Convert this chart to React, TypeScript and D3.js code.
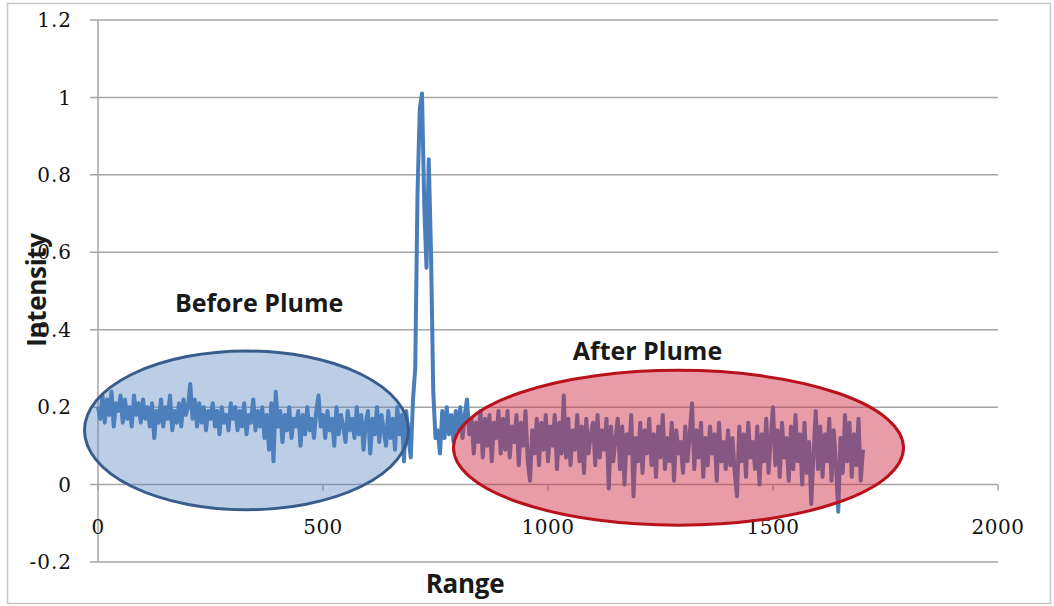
import React from "react";
import * as d3 from "d3";

// samples every 5 range units, starting at 0
const rangeStart = 0;
const rangeStep = 5;
const intensity = [
  0.20, 0.17, 0.23, 0.16, 0.22, 0.18, 0.24, 0.15, 0.21, 0.19, 0.23, 0.16, 0.22, 0.17, 0.20, 0.15, 0.23, 0.18, 0.21, 0.16,
  0.22, 0.17, 0.20, 0.15, 0.21, 0.12, 0.19, 0.16, 0.22, 0.15, 0.20, 0.17, 0.23, 0.14, 0.19, 0.16, 0.21, 0.15, 0.22, 0.18,
  0.20, 0.26, 0.17, 0.22, 0.15, 0.21, 0.16, 0.20, 0.14, 0.19, 0.17, 0.21, 0.15, 0.19, 0.13, 0.20, 0.16, 0.18, 0.14, 0.21,
  0.17, 0.20, 0.14, 0.19, 0.15, 0.21, 0.13, 0.18, 0.16, 0.22, 0.14, 0.19, 0.15, 0.20, 0.12, 0.18, 0.09, 0.21, 0.06, 0.24,
  0.15, 0.19, 0.11, 0.18, 0.14, 0.20, 0.12, 0.17, 0.15, 0.19, 0.10, 0.18, 0.13, 0.20, 0.14, 0.17, 0.12, 0.19, 0.23, 0.15,
  0.18, 0.12, 0.19, 0.14, 0.17, 0.10, 0.20, 0.13, 0.18, 0.15, 0.11, 0.19, 0.14, 0.17, 0.12, 0.20, 0.13, 0.18, 0.09, 0.16,
  0.19, 0.08, 0.17, 0.13, 0.20, 0.11, 0.18, 0.14, 0.10, 0.19, 0.12, 0.17, 0.09, 0.20, 0.13, 0.18, 0.06, 0.19, 0.12, 0.07,
  0.22, 0.30, 0.75, 0.97, 1.01, 0.72, 0.56, 0.84, 0.60, 0.24, 0.12, 0.14, 0.08, 0.19, 0.12, 0.20, 0.13, 0.18, 0.11, 0.19,
  0.14, 0.20, 0.12, 0.18, 0.22, 0.13, 0.17, 0.08, 0.16, 0.11, 0.19, 0.07, 0.17, 0.10, 0.18, 0.06, 0.16, 0.12, 0.19, 0.08,
  0.17, 0.09, 0.19, 0.07, 0.15, 0.11, 0.18, 0.05, 0.16, 0.10, 0.19, 0.06, 0.01, 0.14, 0.08, 0.17, 0.05, 0.16, 0.09, 0.18,
  0.06, 0.15, 0.10, 0.18, 0.04, 0.16, 0.08, 0.23, 0.07, 0.17, 0.05, 0.14, 0.09, 0.18, 0.06, 0.15, 0.03, 0.17, 0.08, 0.13,
  0.16, 0.05, 0.18, 0.07, 0.14, 0.09, 0.17, -0.01, 0.15, 0.06, 0.12, 0.17, 0.04, 0.15, 0.00, 0.13, 0.08, 0.18, -0.03, 0.12,
  0.06, 0.16, 0.03, 0.14, 0.08, 0.17, 0.05, 0.13, 0.02, 0.15, 0.07, 0.18, 0.04, 0.12, 0.06, 0.16, 0.01, 0.14, 0.08, 0.11,
  0.03, 0.15, 0.06, 0.13, 0.21, 0.04, 0.14, 0.07, 0.16, 0.02, 0.12, 0.05, 0.15, 0.08, 0.13, 0.01, 0.16, 0.06, 0.11, 0.04,
  0.14, 0.05, 0.12, 0.03, -0.03, 0.15, 0.06, 0.13, 0.02, 0.16, 0.07, 0.11, 0.04, 0.15, 0.00, 0.13, 0.06, 0.17, 0.03, 0.12,
  0.20, 0.05, 0.14, 0.02, 0.16, 0.07, 0.12, 0.01, 0.15, 0.04, 0.18, 0.06, 0.13, 0.00, 0.16, 0.03, 0.11, -0.05, 0.08, 0.19,
  0.04, 0.15, 0.02, 0.13, 0.06, 0.17, 0.01, 0.14, 0.05, -0.07, 0.12, 0.03, 0.18, 0.06, 0.16, 0.02, 0.13, 0.05, 0.17, 0.01, 0.09,
];

const xTicks = [0, 500, 1000, 1500, 2000];
const yTicks = [-0.2, 0, 0.2, 0.4, 0.6, 0.8, 1, 1.2];

// highlighted regions, in data units (centre, half sizes, label anchor)
const regions = [
  { label: "Before Plume", cx: 330, cy: 0.14, rx: 360, ry: 0.205, lx: 358, ly: 0.445, fill: "rgb(79,129,189)", op: 0.39, stroke: "#385d8a" },
  { label: "After Plume", cx: 1290, cy: 0.095, rx: 500, ry: 0.2, lx: 1221, ly: 0.323, fill: "rgb(205,45,70)", op: 0.47, stroke: "#b8121c" },
];

const W = 1054;
const H = 606;

export default function App() {
  const x = d3.scaleLinear().domain([0, 2000]).range([98, 998]);
  const y = d3.scaleLinear().domain([-0.2, 1.2]).range([562, 20]);

  const line = d3
    .line<number>()
    .x((_, i) => x(rangeStart + i * rangeStep))
    .y((d) => y(d));

  const labelFont = "'Open Sans', 'Noto Sans', sans-serif";
  const tickFont = "'DejaVu Serif', serif";

  return (
    <svg width={W} height={H} style={{ position: "absolute", left: 0, top: 0, background: "#fff" }}>
      <rect x={7.5} y={3.5} width={1043} height={600} fill="#fff" stroke="#c8c8c8" strokeWidth={1.5} />

      {/* gridlines */}
      {yTicks.map((t) => (
        <line key={t} x1={x(0) - 8} x2={x(2000)} y1={y(t)} y2={y(t)} stroke="#a6a6a6" strokeWidth={1.5} />
      ))}
      <line x1={x(0)} x2={x(0)} y1={y(1.2)} y2={y(-0.2)} stroke="#a6a6a6" strokeWidth={1.5} />
      {xTicks.map((t) => (
        <line key={t} x1={x(t)} x2={x(t)} y1={y(0)} y2={y(0) + 6} stroke="#a6a6a6" strokeWidth={1.5} />
      ))}

      {yTicks.map((t) => (
        <text key={t} x={72} y={y(t)} dy="0.36em" textAnchor="end" fontFamily={tickFont} fontSize={20} letterSpacing={1} fill="#111">
          {t}
        </text>
      ))}
      {xTicks.map((t) => (
        <text key={t} x={x(t)} y={527} dy="0.36em" textAnchor="middle" fontFamily={tickFont} fontSize={20} letterSpacing={0.5} fill="#111">
          {t}
        </text>
      ))}

      <path d={line(intensity) ?? ""} fill="none" stroke="#4a7ebb" strokeWidth={4} strokeLinejoin="round" />

      {regions.map((r) => (
        <g key={r.label}>
          <ellipse
            cx={x(r.cx)}
            cy={y(r.cy)}
            rx={x(r.rx) - x(0)}
            ry={y(0) - y(r.ry)}
            fill={r.fill}
            fillOpacity={r.op}
            stroke={r.stroke}
            strokeWidth={3}
          />
          <text x={x(r.lx)} y={y(r.ly)} textAnchor="middle" fontFamily={labelFont} fontWeight={700} fontSize={25} letterSpacing={0} fill="#1a1a1a">
            {r.label}
          </text>
        </g>
      ))}

      <text
        transform={`translate(46,290) rotate(-90)`}
        textAnchor="middle"
        fontFamily={labelFont}
        fontWeight={700}
        fontSize={26}
        letterSpacing={-0.3}
        fill="#1a1a1a"
      >
        Intensity
      </text>
      <text x={465} y={593} textAnchor="middle" fontFamily={labelFont} fontWeight={700} fontSize={26} letterSpacing={-0.3} fill="#1a1a1a">
        Range
      </text>
    </svg>
  );
}
